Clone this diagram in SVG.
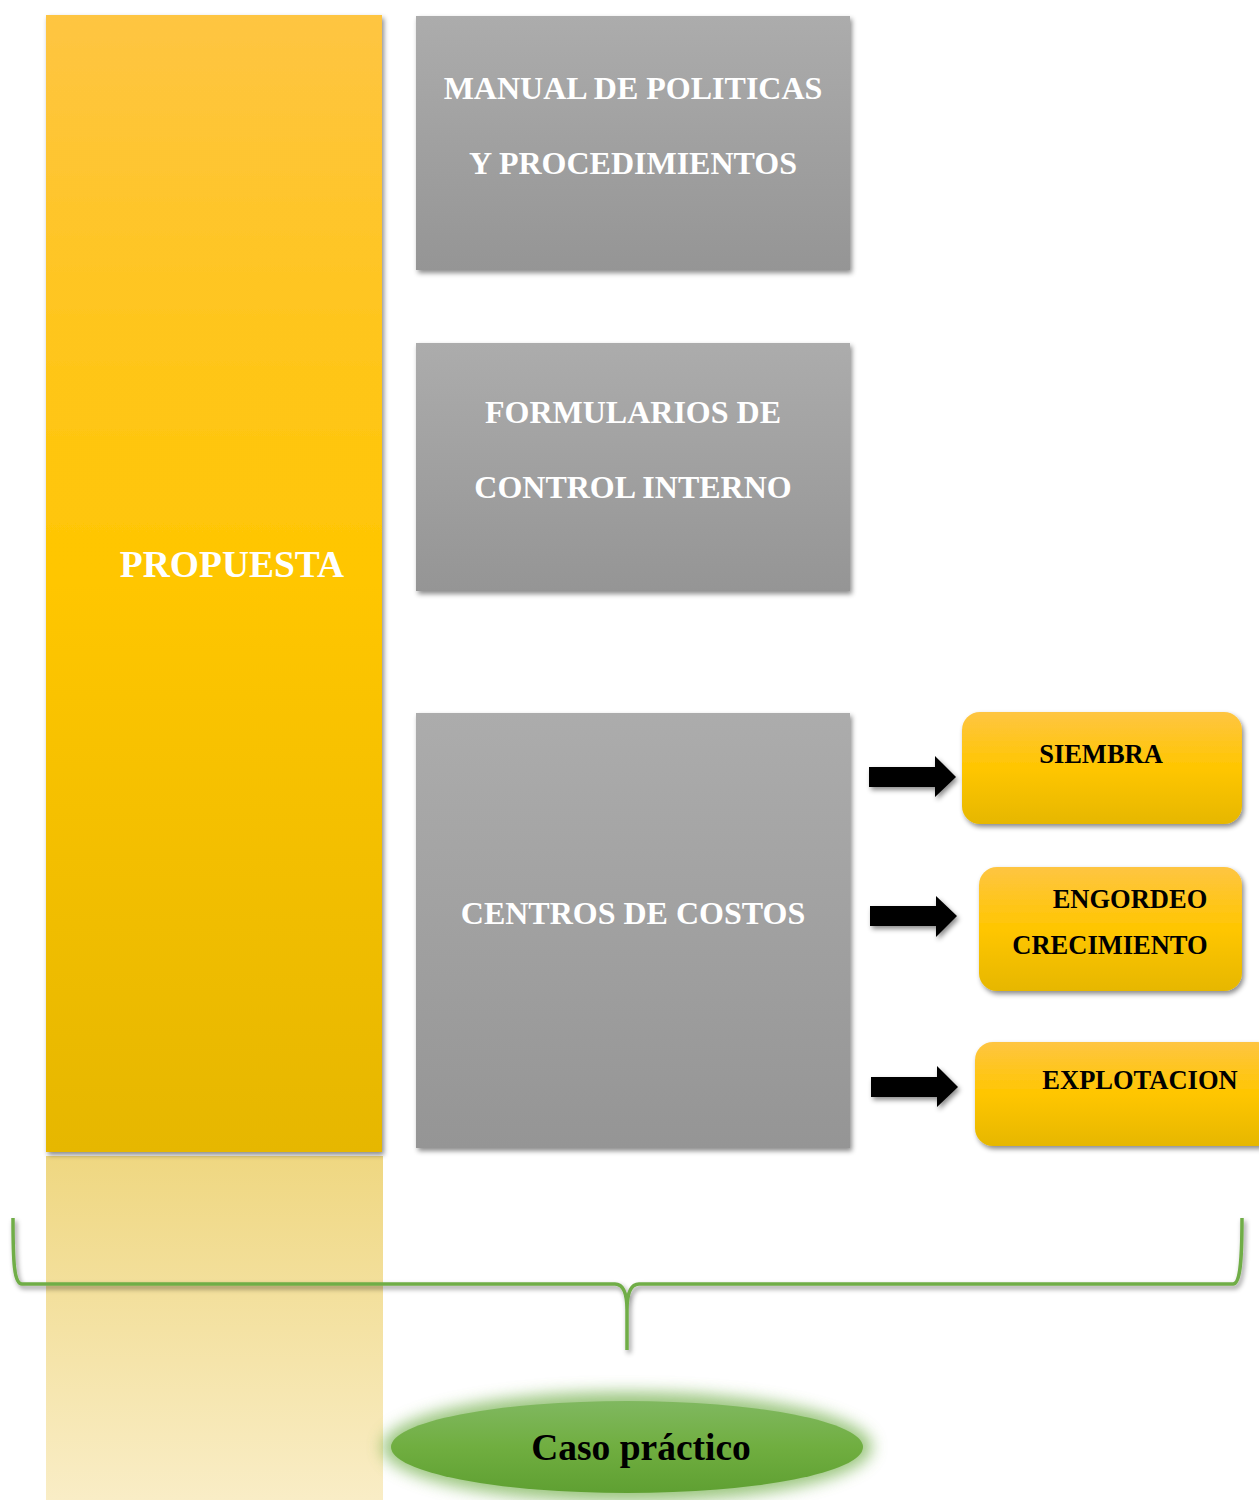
<svg xmlns="http://www.w3.org/2000/svg" width="1259" height="1500" viewBox="0 0 1259 1500">
<style>
.w{font-family:"Liberation Serif","Times New Roman",serif;font-weight:bold;fill:#fff;text-anchor:middle}
.b{font-family:"Liberation Serif","Times New Roman",serif;font-weight:bold;fill:#000;text-anchor:middle}
</style>
<defs>
<linearGradient id="gy" x1="0" y1="0" x2="0" y2="1"><stop offset="0" stop-color="#fec542"/><stop offset="0.5" stop-color="#ffc600"/><stop offset="1" stop-color="#e6b700"/></linearGradient>
<linearGradient id="gg" x1="0" y1="0" x2="0" y2="1"><stop offset="0" stop-color="#acacac"/><stop offset="1" stop-color="#959595"/></linearGradient>
<linearGradient id="gr" x1="0" y1="0" x2="0" y2="1"><stop offset="0" stop-color="#efd781"/><stop offset="1" stop-color="#f9edc6"/></linearGradient>
<linearGradient id="ge" x1="0" y1="0" x2="0" y2="1"><stop offset="0" stop-color="#80b860"/><stop offset="0.5" stop-color="#70ae40"/><stop offset="1" stop-color="#5fa032"/></linearGradient>
<filter id="sh" x="-10%" y="-10%" width="130%" height="130%"><feDropShadow dx="2" dy="3" stdDeviation="2.5" flood-color="#000" flood-opacity="0.45"/></filter>
<filter id="glow" x="-20%" y="-50%" width="140%" height="200%"><feGaussianBlur stdDeviation="8"/></filter>
</defs>
<rect x="46" y="1156" width="337" height="344" fill="url(#gr)"/>
<g id="propuesta"><rect x="46" y="15" width="336" height="1137" fill="url(#gy)" filter="url(#sh)"/><text class="w" x="232" y="577" font-size="37.5">PROPUESTA</text></g>
<g id="manual"><rect x="416" y="16" width="434" height="254" fill="url(#gg)" filter="url(#sh)"/><text class="w" x="633" y="99" font-size="32">MANUAL DE POLITICAS</text><text class="w" x="633" y="174" font-size="32">Y PROCEDIMIENTOS</text></g>
<g id="formularios"><rect x="416" y="343" width="434" height="248" fill="url(#gg)" filter="url(#sh)"/><text class="w" x="633" y="423" font-size="32">FORMULARIOS DE</text><text class="w" x="633" y="498" font-size="32">CONTROL INTERNO</text></g>
<g id="centros"><rect x="416" y="713" width="434" height="435" fill="url(#gg)" filter="url(#sh)"/><text class="w" x="633" y="924" font-size="32">CENTROS DE COSTOS</text></g>
<g id="siembra"><rect x="962" y="712" width="280" height="112" rx="18" fill="url(#gy)" filter="url(#sh)"/><text class="b" x="1101" y="763" font-size="26.5">SIEMBRA</text></g>
<g id="engordeo"><rect x="979" y="867" width="263" height="124" rx="18" fill="url(#gy)" filter="url(#sh)"/><text class="b" x="1130" y="908" font-size="26.5">ENGORDEO</text><text class="b" x="1110" y="954" font-size="26.5">CRECIMIENTO</text></g>
<g id="explotacion"><rect x="975" y="1042" width="300" height="104" rx="18" fill="url(#gy)" filter="url(#sh)"/><text class="b" x="1140" y="1089" font-size="26.5">EXPLOTACION</text></g>
<g id="connectors" fill="#000" filter="url(#sh)">
<polygon points="869,767 935,767 935,756 956,777 935,797 935,787 869,787"/>
<polygon points="870,906 936,906 936,896 957,916 936,937 936,926 870,926"/>
<polygon points="871,1077 937,1077 937,1066 958,1087 937,1107 937,1097 871,1097"/>
<path d="M13,1218 C13,1262 14,1284 22,1284 L615,1284 C623,1284 627,1292 627,1310 L627,1350 M627,1310 C627,1292 631,1284 639,1284 L1233,1284 C1240,1284 1242,1262 1242,1218" fill="none" stroke="#70ad47" stroke-width="3.5" filter="none"/>
</g>
<g id="caso">
<ellipse cx="627" cy="1447" rx="245" ry="55" fill="#70ad47" opacity="0.7" filter="url(#glow)"/>
<ellipse cx="627" cy="1447" rx="236" ry="46" fill="url(#ge)"/>
<text class="b" x="641" y="1460" font-size="37.5">Caso práctico</text>
</g>
</svg>
